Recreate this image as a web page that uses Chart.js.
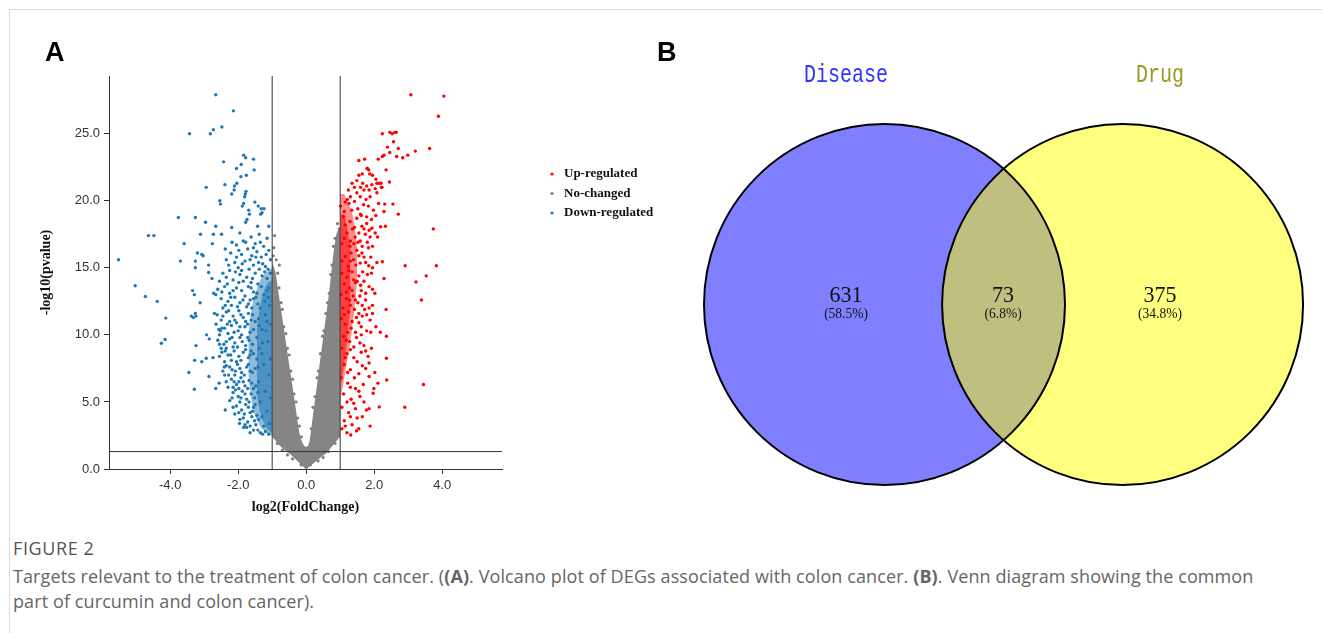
<!DOCTYPE html>
<html><head><meta charset="utf-8">
<script src="https://cdn.jsdelivr.net/npm/chart.js@4.4.1/dist/chart.umd.min.js"></script>
<style>
html,body{margin:0;padding:0;background:#fff;width:1322px;height:633px;overflow:hidden;}
#frame{position:absolute;left:9px;top:9px;width:1400px;height:700px;border-left:1px solid #dcdcdc;border-top:1px solid #dcdcdc;}
canvas{position:absolute;top:0;}
#volcano{left:0;z-index:1;}
#venn{left:640px;z-index:2;}
.panel{position:absolute;font-family:'Liberation Sans',Arial,sans-serif;font-weight:bold;font-size:27px;line-height:27px;color:#000;z-index:3;}
#capTitle{position:absolute;left:13px;top:536px;font-family:'Open Sans',sans-serif;font-size:18px;line-height:24px;letter-spacing:0.6px;color:#555;}
#capText{position:absolute;left:13px;top:564px;font-family:'Open Sans',sans-serif;font-size:18px;line-height:25px;letter-spacing:0.1px;color:#666;white-space:nowrap;}
</style></head>
<body>
<div id="frame"></div>
<canvas id="volcano" width="680" height="520"></canvas>
<canvas id="venn" width="682" height="520"></canvas>
<div class="panel" style="left:45px;top:39px;">A</div>
<div class="panel" style="left:657px;top:39px;">B</div>
<div id="capTitle">FIGURE 2</div>
<div id="capText">Targets relevant to the treatment of colon cancer. (<b>(A)</b>. Volcano plot of DEGs associated with colon cancer. <b>(B)</b>. Venn diagram showing the common<br>part of curcumin and colon cancer).</div>
<script>
// ---------------- DATA ----------------
const legendLabels = ['Up-regulated', 'No-changed', 'Down-regulated'];
const xTickValues = [-4, -2, 0, 2, 4];
const yTickValues = [0, 5, 10, 15, 20, 25];
const fcCutoff = [-1, 1];          // log2 fold-change thresholds
const pCutoff = 1.3;               // -log10(0.05)

// Up-regulated genes [log2FC, -log10 p]
const upRegulated = [
[3.08,27.9],[4.05,27.8],[3.89,26.3],[3.63,23.9],[3.21,23.7],[2.99,23.4],[2.84,23.2],[2.66,23.3],[2.71,23.9],[2.39,24.0],
[2.46,23.6],[2.46,25.1],[2.53,25.0],[2.61,25.1],[2.65,25.1],[2.24,25.0],[2.57,24.4],[1.55,23.0],[1.72,23.1],[2.12,23.1],
[2.24,23.3],[2.29,23.4],[1.79,22.4],[1.84,22.3],[2.35,22.3],[2.05,21.6],[2.08,21.3],[1.49,21.5],[2.20,21.3],[2.23,21.0],
[2.45,21.4],[1.24,20.8],[1.42,21.0],[2.55,19.75],[2.31,19.75],[2.71,19.0],[2.29,19.2],[1.01,19.6],[1.21,20.1],[3.74,17.9],
[2.19,18.06],[2.33,18.1],[2.91,15.15],[3.83,15.15],[2.08,15.4],[2.24,15.45],[1.84,15.15],[3.53,14.4],[3.23,13.95],[3.39,12.6],
[2.29,14.2],[2.35,11.9],[2.36,9.9],[2.36,8.26],[2.37,6.64],[3.45,6.3],[2.90,4.6],[2.18,10.2],[2.15,4.63],[1.97,5.65],
[1.99,6.0],[1.77,4.4],[1.85,4.5],[2.11,6.4],[1.31,2.54],[1.48,2.84],[1.80,22.4],[1.87,22.0],[1.66,21.3],[1.78,21.1],
[1.93,21.2],[2.03,20.9],[2.15,21.3],[2.21,21.0],[2.08,20.6],[1.88,20.3],[1.76,20.1],[1.59,20.3],[1.49,20.6],[1.42,19.95],
[1.69,19.7],[1.83,19.6],[1.98,19.3],[2.13,19.8],[1.10,18.8],[1.29,18.45],[1.49,18.7],[1.64,18.1],[1.78,18.3],[1.93,17.95],
[1.20,17.6],[1.44,17.3],[1.59,17.0],[1.74,17.5],[1.88,17.3],[2.03,17.6],[1.05,16.8],[1.29,16.6],[1.49,16.3],[1.64,16.1],
[1.83,16.5],[1.15,15.85],[1.39,15.6],[1.59,15.35],[1.24,15.1],[1.05,15.5],[1.05,14.6],[1.20,14.3],[1.35,14.7],[1.55,14.4],
[1.70,14.0],[1.12,13.8],[1.28,13.5],[1.45,13.9],[1.62,13.3],[1.85,13.6],[1.02,13.0],[1.18,12.7],[1.38,12.9],[1.52,12.4],
[1.75,12.6],[1.95,12.2],[1.08,12.0],[1.25,11.7],[1.42,11.9],[1.65,11.4],[1.88,11.1],[1.03,11.2],[1.15,10.8],[1.32,10.5],
[1.55,10.9],[1.78,10.3],[2.05,10.6],[1.10,9.9],[1.28,9.5],[1.48,9.8],[1.70,9.2],[1.92,9.0],[1.05,9.0],[1.20,8.6],
[1.40,8.3],[1.62,8.7],[1.85,7.9],[1.12,7.8],[1.30,7.4],[1.55,7.1],[1.75,7.5],[2.02,7.2],[1.03,6.8],[1.22,6.4],
[1.45,6.0],[1.68,6.3],[1.10,5.6],[1.32,5.2],[1.58,5.4],[1.05,4.6],[1.25,4.2],[1.45,4.5],[1.65,3.9],[1.12,3.6],
[1.35,3.3],[1.55,3.0],[1.05,3.0],[1.20,2.7],[1.88,3.2],[1.34,19.3],[1.15,19.9],[1.62,18.9],[1.36,17.9],[1.12,17.2],
[1.52,16.9],[1.70,15.8],[1.32,16.1],[1.46,15.2],[1.92,14.6],[1.66,14.7],[1.40,14.1],[1.18,13.2],[1.58,12.9],[2.02,13.1],
[1.30,12.2],[1.12,11.5],[1.72,11.9],[1.48,11.3],[1.95,11.6],[1.22,10.2],[1.62,10.0],[1.40,9.1],[1.15,8.3],[1.82,8.4],
[1.55,21.9],[1.65,22.0],[1.35,21.3],[1.60,21.0],[1.30,20.3],[1.70,20.8],[1.85,20.8],[1.95,21.9],
[1.12,19.2],[1.26,19.8],[1.52,19.4],[1.60,19.0],[1.78,18.8],[1.92,18.6],[2.05,18.9],
[1.15,18.2],[1.42,18.0],[1.55,17.6],[1.70,17.9],[1.85,17.8],[2.10,17.3],
[1.30,17.0],[1.65,16.6],[1.80,16.9],[1.95,16.6],[1.40,16.8],
[1.55,15.9],[1.75,15.4],[1.90,15.8],[1.30,15.5],[1.95,15.0],
[1.25,14.8],[1.50,14.0],[1.80,14.5],[1.60,13.7],[1.75,13.1],[1.35,13.3],[1.95,13.4],
[1.45,12.6],[1.65,12.2],[1.85,12.0],[1.28,12.6],[1.55,11.6],[1.78,11.5],[1.35,11.0],
[1.62,10.6],[1.45,10.2],[1.90,10.2],[1.18,9.6],[1.58,9.4],[1.30,8.9],[1.75,8.8],
[1.50,8.0],[1.65,7.7],[1.22,7.2],[1.42,6.8],[1.85,6.9],[1.30,6.1],[1.55,5.8],
[1.20,5.0],[1.40,4.9],[1.70,5.0],[1.30,3.9],[1.50,3.8],[1.15,3.2]
];

// Down-regulated genes [log2FC, -log10 p]
const downRegulated = [
[-2.66,27.9],[-2.14,26.7],[-3.43,25.0],[-2.82,25.0],[-2.73,25.3],[-2.48,25.5],[-2.43,22.9],[-2.94,21.0],[-2.39,21.2],[-1.84,23.4],
[-1.78,23.2],[-1.55,23.1],[-2.05,22.4],[-1.91,22.7],[-1.92,21.8],[-1.76,21.9],[-1.53,22.3],[-2.11,21.1],[-2.04,21.3],[-2.19,20.5],
[-2.12,20.8],[-1.79,20.5],[-1.81,20.3],[-1.77,20.7],[-2.54,20.0],[-2.52,19.75],[-1.88,19.6],[-1.84,19.8],[-1.69,19.3],[-1.67,19.0],
[-1.51,19.9],[-1.41,19.6],[-1.32,19.4],[-1.24,19.4],[-1.34,19.0],[-1.30,19.1],[-3.76,18.75],[-3.26,18.75],[-2.96,18.4],[-2.66,18.1],
[-2.19,18.0],[-1.74,18.6],[-1.78,18.4],[-1.43,18.1],[-1.10,18.1],[-5.52,15.6],[-5.03,13.66],[-4.73,12.86],[-4.38,12.5],[-4.13,11.25],
[-4.15,9.65],[-4.26,9.38],[-4.64,17.4],[-4.48,17.4],[-3.59,16.8],[-3.70,15.5],[-3.20,16.1],[-3.07,16.0],[-3.03,15.9],[-3.26,15.5],
[-3.26,15.0],[-2.87,15.2],[-3.11,17.5],[-2.76,16.8],[-2.73,17.5],[-2.49,17.5],[-3.34,13.3],[-3.29,13.0],[-3.12,12.4],[-3.38,11.4],
[-3.32,11.3],[-3.24,11.4],[-3.26,11.6],[-2.87,14.65],[-2.77,14.2],[-2.72,13.1],[-2.66,13.0],[-2.70,11.6],[-2.93,10.0],[-2.85,9.7],
[-3.24,9.2],[-2.57,10.4],[-2.48,10.5],[-2.74,8.3],[-2.94,8.26],[-3.07,8.0],[-3.28,8.1],[-3.45,7.2],[-3.29,5.95],[-2.86,6.9],
[-2.56,6.4],[-2.41,7.6],[-2.38,4.4],[-1.96,3.4],[-1.84,3.1],[-2.66,6.0],
[-1.95,17.6],[-1.62,17.3],[-1.38,17.5],[-1.15,17.2],[-1.85,17.0],[-1.50,16.8],[-1.25,16.6],[-2.05,16.7],
[-1.72,16.4],[-1.45,16.2],[-1.10,16.3],[-2.22,16.1],[-1.90,16.0],[-1.60,15.9],[-1.32,15.8],[-1.05,15.6],
[-2.35,15.6],[-2.10,15.4],[-1.80,15.5],[-1.55,15.2],[-1.40,15.4],[-1.20,15.1],[-2.00,15.0],[-1.68,14.9],
[-2.45,14.6],[-2.25,14.8],[-1.95,14.5],[-1.75,14.3],[-1.50,14.6],[-2.15,14.1],[-1.85,14.0],[-1.62,13.9],[-2.55,14.0],
[-2.40,13.6],[-2.05,13.5],[-1.90,13.3],[-1.70,13.6],[-1.55,13.2],[-2.25,13.1],[-2.60,13.4],[-1.80,12.9],
[-2.50,12.7],[-2.30,12.5],[-2.10,12.8],[-1.95,12.4],[-1.65,12.6],[-2.20,12.2],[-1.75,12.1],[-2.45,12.0],[-1.60,12.0],
[-2.62,11.5],[-2.35,11.7],[-2.15,11.4],[-1.98,11.8],[-1.85,11.3],[-1.70,11.6],[-2.50,11.1],[-2.25,11.0],[-2.05,10.9],[-1.62,11.1],
[-2.65,10.8],[-2.40,10.5],[-2.20,10.7],[-2.00,10.3],[-1.80,10.6],[-1.65,10.2],[-2.30,10.1],[-2.55,10.0],[-1.90,10.0],
[-2.60,9.6],[-2.42,9.3],[-2.25,9.7],[-2.10,9.4],[-1.95,9.8],[-1.78,9.2],[-2.35,9.0],[-2.15,9.1],[-1.68,9.6],[-2.50,9.0],
[-2.48,8.7],[-2.30,8.5],[-2.12,8.8],[-1.98,8.4],[-1.85,8.7],[-1.70,8.3],[-2.20,8.1],[-2.40,8.0],[-1.62,8.8],
[-2.35,7.7],[-2.18,7.4],[-2.02,7.8],[-1.90,7.2],[-1.75,7.6],[-2.28,7.0],[-2.10,7.0],[-1.65,7.3],[-2.45,7.3],
[-2.20,6.7],[-2.05,6.3],[-1.92,6.8],[-1.80,6.2],[-1.68,6.6],[-2.30,6.1],[-1.98,6.0],[-2.12,6.5],
[-2.15,5.7],[-2.00,5.4],[-1.88,5.8],[-1.75,5.2],[-2.25,5.1],[-1.62,5.6],[-1.95,5.0],
[-2.05,4.7],[-1.90,4.4],[-1.78,4.8],[-1.65,4.2],[-2.10,4.1],[-1.55,4.6],
[-1.85,3.8],[-1.72,3.5],[-1.60,3.9],[-1.48,3.3],[-1.75,3.1],[-1.40,3.7],
[-1.55,2.9],[-1.35,2.7],[-1.20,2.8],[-1.10,2.6],
[-1.05,14.6],[-1.15,14.2],[-1.30,14.4],[-1.42,13.8],[-1.10,13.5],[-1.25,13.0],[-1.48,12.8],[-1.08,12.2],[-1.35,12.0],[-1.20,11.5],
[-1.50,11.0],[-1.05,10.8],[-1.30,10.4],[-1.45,9.8],[-1.12,9.5],[-1.38,9.0],[-1.55,8.6],[-1.05,8.2],[-1.25,7.8],[-1.50,7.5],
[-1.10,7.0],[-1.40,6.5],[-1.55,6.0],[-1.20,5.8],[-1.05,5.3],[-1.35,5.0],[-1.50,4.8],[-1.15,4.3],[-1.30,3.9],[-1.08,3.4],[-1.25,3.2],
[-2.38,16.4],[-2.18,16.9],[-1.98,16.3],[-1.78,16.9],[-1.55,16.5],[-1.35,16.9],[-1.18,16.0],[-2.28,15.2],[-2.05,15.8],[-1.88,15.3],
[-1.65,15.6],[-1.48,15.8],[-1.28,15.3],[-1.12,14.9],[-2.35,14.3],[-2.08,14.7],[-1.90,14.8],[-1.58,14.2],[-1.38,14.9],[-1.22,14.7],
[-2.48,13.2],[-2.32,13.8],[-2.15,13.3],[-1.98,13.9],[-1.62,13.5],[-1.45,13.1],[-1.32,13.6],[-1.15,13.3],
[-2.38,12.2],[-2.22,12.8],[-2.02,12.1],[-1.86,12.6],[-1.70,12.3],[-1.55,12.7],[-1.42,12.3],[-1.22,12.5],[-1.12,12.8],
[-2.45,11.4],[-2.28,11.8],[-2.10,11.1],[-1.92,11.5],[-1.78,11.0],[-1.58,11.5],[-1.40,11.2],[-1.15,11.0],
[-2.52,10.3],[-2.32,10.8],[-2.12,10.2],[-1.95,10.6],[-1.72,10.8],[-1.55,10.4],[-1.38,10.7],[-1.18,10.3],
[-2.55,9.3],[-2.35,9.5],[-2.18,9.8],[-2.02,9.1],[-1.88,9.5],[-1.72,9.8],[-1.58,9.3],[-1.28,9.4],
[-2.55,8.4],[-2.38,8.8],[-2.22,8.5],[-2.05,8.0],[-1.92,8.1],[-1.78,8.9],[-1.65,8.5],[-1.45,8.2],[-1.30,8.6],
[-2.40,7.0],[-2.25,7.6],[-2.08,7.3],[-1.95,7.5],[-1.82,7.0],[-1.70,7.8],[-1.58,7.2],[-1.42,7.6],
[-2.35,6.5],[-2.15,6.1],[-1.98,6.5],[-1.85,6.5],[-1.72,6.0],[-1.60,6.4],[-1.48,6.2],
[-2.18,5.3],[-2.08,5.9],[-1.92,5.3],[-1.80,5.6],[-1.68,5.0],[-1.52,5.3],[-1.42,5.7],
[-2.15,4.6],[-1.98,4.2],[-1.82,4.1],[-1.70,4.6],[-1.58,4.3],[-1.45,4.0],
[-1.95,3.7],[-1.80,3.3],[-1.65,3.2],[-1.52,3.6],[-1.42,2.9],[-1.28,2.6],[-1.65,2.7]
];

// Scattered non-significant genes at the edges of the dense cloud
const noChanged = [
[-0.84,14.6],[-0.80,13.5],[-0.74,12.4],[-0.70,11.9],[-0.66,10.6],[-0.60,10.1],[-0.55,9.0],[-0.50,8.5],[-0.45,7.3],[-0.40,6.7],
[-0.36,5.6],[-0.30,5.0],[-0.25,3.8],[-0.20,3.2],[-0.14,2.4],[0.15,3.0],[0.20,4.6],[0.26,5.4],[0.32,6.8],[0.36,7.3],
[0.42,8.6],[0.48,9.9],[0.52,10.3],[0.58,11.6],[0.63,12.4],[0.68,13.1],[0.72,14.5],[0.76,15.2],[0.80,16.6],[0.85,17.2],
[0.92,18.3],[0.97,17.9],[-0.93,17.4],[-0.79,15.2],[-0.97,15.9],[-0.88,15.6],[-0.95,16.5],[-0.55,1.05],[-0.40,0.75],[0.35,0.6],
[0.50,0.85],[0.65,1.3],[-0.70,1.4],[-0.85,1.9],[0.85,1.9],[-0.15,0.3],[0.12,0.3]
];
// Dense "no-changed" cloud: outline as lower / upper envelope over log2FC
const cloudX    = [-1.0,-0.9,-0.8,-0.7,-0.6,-0.5,-0.4,-0.3,-0.2,-0.1,0.0,0.1,0.2,0.3,0.4,0.5,0.6,0.7,0.8,0.9,1.0];
const cloudLow  = [2.4,2.1,1.8,1.55,1.35,1.15,0.95,0.7,0.45,0.2,0.0,0.2,0.4,0.6,0.8,1.0,1.2,1.5,1.8,2.1,2.4];
const cloudHigh = [15.4,14.6,12.9,11.2,9.5,7.8,6.1,4.4,2.7,1.9,1.65,2.1,4.0,5.9,7.9,9.8,11.7,13.7,16.0,17.6,17.9];
// Dense cores of the significant groups (outer and inner envelopes)
const downCoreX    = [-1.7,-1.6,-1.5,-1.4,-1.3,-1.2,-1.1,-1.0];
const downCoreLow  = [7.0,5.0,4.0,3.4,3.0,2.8,2.6,2.5];
const downCoreHigh = [10.0,12.0,13.0,13.8,14.3,14.6,14.8,15.0];
const downInnerX    = [-1.45,-1.35,-1.25,-1.15,-1.05,-1.0];
const downInnerLow  = [5.5,4.2,3.5,3.0,2.8,2.7];
const downInnerHigh = [10.5,12.2,13.2,13.8,14.0,14.0];
const upCoreX    = [1.0,1.1,1.2,1.3,1.4,1.5];
const upCoreLow  = [5.0,6.5,8.0,9.5,11.5,14.0];
const upCoreHigh = [20.5,20.5,20.0,19.5,18.5,16.5];
const upInnerX    = [1.0,1.1,1.2,1.3];
const upInnerLow  = [6.0,7.5,9.5,12.0];
const upInnerHigh = [19.0,19.0,18.0,16.5];

// Venn data
const vennSets = ['Disease', 'Drug'];
const vennCounts = [631, 73, 375];
const vennPercents = ['(58.5%)', '(6.8%)', '(34.8%)'];

// ---------------- STYLES ----------------
const RED = '#ff0000', GRAY = '#808080', BLUE = '#1f78b4';
const pts = a => a.map(p => ({x: p[0], y: p[1]}));
const env = (xs, ys) => xs.map((x, i) => ({x, y: ys[i]}));

const envelope = (data, color, fill, order) => ({
  type: 'line', data, fill, backgroundColor: color, borderColor: 'rgba(0,0,0,0)', borderWidth: 0,
  pointRadius: 0, cubicInterpolationMode: 'monotone', order
});
const refLine = (data) => ({type: 'line', data, borderColor: '#333', borderWidth: 1, pointRadius: 0, fill: false, order: 0});

const legendPlugin = {
  id: 'sideLegend',
  afterDraw(chart) {
    const ctx = chart.ctx, a = chart.chartArea;
    const colors = [RED, GRAY, BLUE];
    ctx.save();
    ctx.font = 'bold 13px "Liberation Serif", serif';
    ctx.textBaseline = 'middle';
    legendLabels.forEach((lab, i) => {
      const y = a.top + 98 + i * 19.5;
      ctx.fillStyle = colors[i];
      ctx.beginPath(); ctx.arc(a.right + 50, y, 1.6, 0, Math.PI * 2); ctx.fill();
      ctx.fillStyle = '#111';
      ctx.fillText(lab, a.right + 62, y);
    });
    ctx.restore();
  }
};

const tickFont = {family: '"Liberation Sans", Arial, sans-serif', size: 13};
const titleFont = {family: '"Liberation Serif", "Times New Roman", serif', size: 14, weight: 'bold'};

new Chart(document.getElementById('volcano'), {
  type: 'scatter',
  data: {
    datasets: [
      {label: legendLabels[0], data: pts(upRegulated), backgroundColor: RED, pointRadius: 1.7, pointBorderWidth: 0, order: 1},
      {label: legendLabels[2], data: pts(downRegulated), backgroundColor: BLUE, pointRadius: 1.7, pointBorderWidth: 0, order: 1},
      {label: legendLabels[1], data: pts(noChanged), backgroundColor: GRAY, pointRadius: 1.6, pointBorderWidth: 0, order: 2},
      envelope(env(cloudX, cloudLow), GRAY, false, 8),
      envelope(env(cloudX, cloudHigh), '#858585', '-1', 7),
      envelope(env(downCoreX, downCoreLow), BLUE, false, 8),
      envelope(env(downCoreX, downCoreHigh), 'rgba(31,120,180,0.5)', '-1', 7),
      envelope(env(downInnerX, downInnerLow), BLUE, false, 6),
      envelope(env(downInnerX, downInnerHigh), 'rgba(31,120,180,0.6)', '-1', 5),
      envelope(env(upCoreX, upCoreLow), RED, false, 8),
      envelope(env(upCoreX, upCoreHigh), 'rgba(255,0,0,0.45)', '-1', 7),
      envelope(env(upInnerX, upInnerLow), RED, false, 6),
      envelope(env(upInnerX, upInnerHigh), 'rgba(255,0,0,0.55)', '-1', 5),
      refLine([{x: fcCutoff[0], y: 0}, {x: fcCutoff[0], y: 29.3}]),
      refLine([{x: fcCutoff[1], y: 0}, {x: fcCutoff[1], y: 29.3}]),
      refLine([{x: -5.8, y: pCutoff}, {x: 5.76, y: pCutoff}])
    ]
  },
  options: {
    responsive: false, animation: false, events: [],
    layout: {padding: {left: 30, right: 178, top: 76, bottom: 0}},
    plugins: {legend: {display: false}, tooltip: {enabled: false}},
    scales: {
      x: {
        type: 'linear', min: -5.8, max: 5.76,
        afterBuildTicks: s => { s.ticks = xTickValues.map(v => ({value: v})); },
        afterFit: s => { s.height = 51; },
        ticks: {autoSkip: false, maxRotation: 0, padding: 4, color: '#333', font: tickFont, callback: v => Number(v).toFixed(1)},
        grid: {display: true, drawOnChartArea: false, drawTicks: true, tickLength: 5, color: '#333'},
        border: {display: true, color: '#333', width: 1},
        title: {display: true, text: 'log2(FoldChange)', color: '#111', font: titleFont, padding: {top: 0, bottom: 4}}
      },
      y: {
        type: 'linear', min: 0, max: 29.3,
        afterBuildTicks: s => { s.ticks = yTickValues.map(v => ({value: v})); },
        afterFit: s => { s.width = 79; },
        ticks: {autoSkip: false, padding: 4, color: '#333', font: tickFont, callback: v => Number(v).toFixed(1)},
        grid: {display: true, drawOnChartArea: false, drawTicks: true, tickLength: 5, color: '#333'},
        border: {display: true, color: '#333', width: 1},
        title: {display: true, text: '-log10(pvalue)', color: '#111', font: titleFont, padding: {top: 8, bottom: 0}}
      }
    }
  },
  plugins: [legendPlugin]
});

// ---------------- VENN ----------------
// layout in units of the circle radius; the Disease circle sits at the origin
const vennLayout = {
  xMin: -1.3546, xMax: 2.4238, yMin: -1.194, yMax: 1.687,
  centers: [0, 1.319],
  fills: ['rgba(0,0,255,0.5)', 'rgba(255,255,0,0.5)'],
  setLabelX: [-0.213, 1.526], setLabelY: 1.269,
  countX: [-0.213, 0.657, 1.526], countY: 0.047, pctY: -0.053
};
const vennCircles = {
  id: 'vennCircles',
  beforeDatasetsDraw(chart) {
    const {ctx, scales: {x, y}} = chart;
    const r = x.getPixelForValue(1) - x.getPixelForValue(0);
    const cy = y.getPixelForValue(0);
    ctx.save();
    vennLayout.centers.forEach((c, i) => {
      ctx.beginPath(); ctx.arc(x.getPixelForValue(c), cy, r, 0, Math.PI * 2);
      ctx.fillStyle = vennLayout.fills[i]; ctx.fill();
    });
    ctx.lineWidth = 2; ctx.strokeStyle = '#000';
    vennLayout.centers.forEach(c => {
      ctx.beginPath(); ctx.arc(x.getPixelForValue(c), cy, r, 0, Math.PI * 2); ctx.stroke();
    });
    ctx.restore();
  }
};
const vennText = {
  id: 'vennText',
  afterDatasetsDraw(chart) {
    const {ctx, scales: {x, y}} = chart;
    const L = vennLayout;
    const draw = (txt, vx, vy, font, color, sy) => {
      ctx.save();
      ctx.translate(x.getPixelForValue(vx), y.getPixelForValue(vy));
      ctx.scale(1, sy);
      ctx.font = font; ctx.fillStyle = color;
      ctx.textAlign = 'center'; ctx.textBaseline = 'middle';
      ctx.fillText(txt, 0, 0);
      ctx.restore();
    };
    const setColors = ['#3232ff', '#9a9a28'];
    vennSets.forEach((s, i) => draw(s, L.setLabelX[i], L.setLabelY, '20px "Liberation Mono", monospace', setColors[i], 1.3));
    vennCounts.forEach((c, i) => {
      draw(String(c), L.countX[i], L.countY, '22px "Liberation Serif", serif', '#111', 1.08);
      draw(vennPercents[i], L.countX[i], L.pctY, '13.5px "Liberation Serif", serif', '#111', 1.05);
    });
  }
};
new Chart(document.getElementById('venn'), {
  type: 'bubble',
  data: {datasets: []},
  options: {
    responsive: false, animation: false, events: [],
    layout: {padding: 0},
    plugins: {legend: {display: false}, tooltip: {enabled: false}},
    scales: {
      x: {type: 'linear', display: false, min: vennLayout.xMin, max: vennLayout.xMax},
      y: {type: 'linear', display: false, min: vennLayout.yMin, max: vennLayout.yMax}
    }
  },
  plugins: [vennCircles, vennText]
});
</script>
</body></html>
